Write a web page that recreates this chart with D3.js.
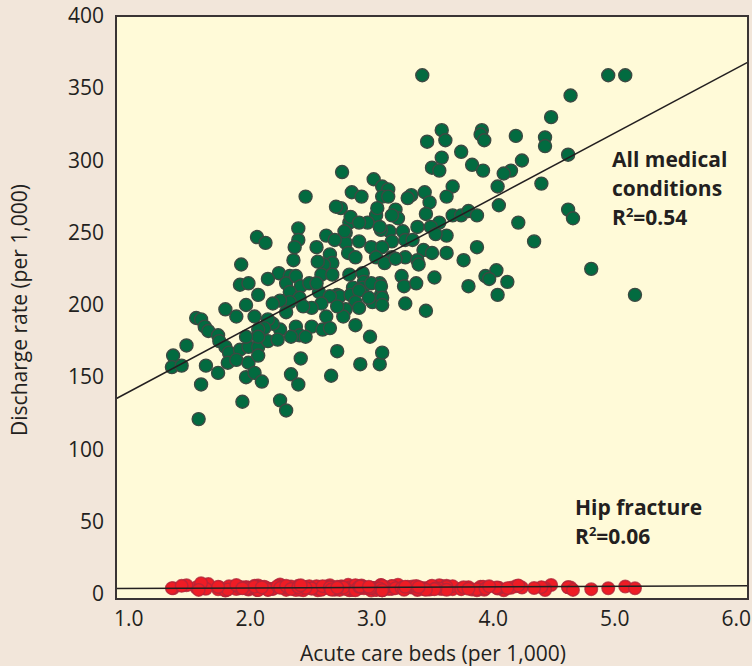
<!DOCTYPE html>
<html>
<head>
<meta charset="utf-8">
<script src="https://cdn.jsdelivr.net/npm/d3@7"></script>
<style>
  body { margin: 0; background: #f2e6da; }
  svg { display: block; }
</style>
</head>
<body>
<div id="scatter"></div>
<script>
// tick labels
var xTicks = [1, 2, 3, 4, 5, 6];
var yTicks = [0, 50, 100, 150, 200, 250, 300, 350, 400];

// acute care beds per 1,000 (one entry per region, shared by both series)
var beds = [
  3.42, 4.95, 5.09, 4.64, 4.48, 3.58, 3.91, 3.90, 3.93, 3.61, 3.46, 4.19, 4.43, 4.43, 4.62, 3.74, 3.58, 4.24, 3.83, 3.92,
  3.50, 3.56, 4.15, 4.09, 2.76, 4.04, 4.40, 3.67, 3.62, 3.02, 3.09, 3.14, 2.84, 2.92, 3.44, 3.33, 3.30, 3.09, 3.14, 2.46,
  3.48, 4.05, 4.62, 4.66, 2.75, 2.71, 3.20, 3.22, 3.17, 3.04, 3.45, 3.67, 3.74, 3.80, 3.87, 4.21, 4.34, 3.87, 3.62, 3.56,
  3.49, 3.38, 3.26, 3.15, 3.08, 2.97, 2.82, 2.79, 2.90, 3.00, 2.79, 3.17, 3.28, 3.43, 3.50, 3.62, 3.76, 3.28, 3.17, 3.05,
  2.83, 3.07, 3.09, 3.34, 3.53, 2.78, 2.81, 2.87, 3.04, 3.11, 3.20, 3.38, 2.90,
  2.40, 2.06, 2.13, 2.40, 2.37, 2.63, 2.70, 2.55, 2.36, 1.93, 2.66, 2.68, 2.61, 2.56, 2.24, 2.15, 1.92, 1.99, 2.07, 2.33,
  2.30, 2.38, 2.42, 2.49, 2.59, 2.68, 2.82, 2.93, 2.94, 2.93, 3.07, 3.08, 3.25, 3.27, 3.37, 3.52, 2.33, 2.57, 2.72, 2.85,
  3.00, 3.08, 2.55, 2.74, 2.83, 2.90, 2.87, 2.79, 2.77, 2.87, 2.90, 3.01, 3.09, 3.09, 2.66, 2.59, 2.51, 2.63, 2.72, 2.41,
  2.33, 2.25, 2.19, 2.44, 2.30, 2.51, 2.60, 2.66, 2.38, 2.41, 2.34, 2.46, 2.25, 2.19, 2.15, 2.12, 2.07, 2.04, 1.97, 1.89,
  1.80, 1.56, 1.60, 1.63, 1.66, 1.74, 1.75, 1.80, 1.83, 1.92, 1.99, 2.07, 2.15, 2.23, 2.07, 1.97, 1.82, 1.89, 1.99, 2.07,
  1.97, 2.04, 2.10, 1.48, 1.37, 1.36, 1.44, 1.64, 1.74, 1.60, 1.94, 2.25, 2.30, 1.58, 2.34, 2.40, 2.42, 2.67, 2.72, 2.91,
  3.07, 3.09, 2.99, 2.98,
  3.80, 4.04, 3.28, 3.45, 4.03, 3.94, 3.97, 4.12, 4.81, 5.17, 3.39
];

// discharge rate per 1,000, all medical conditions
var allMedical = [
  359, 359, 359, 345, 330, 321, 321, 318, 314, 314, 313, 317, 316, 310, 304, 306, 302, 300, 297, 293,
  295, 293, 293, 291, 292, 282, 284, 282, 275, 287, 282, 280, 278, 275, 278, 276, 274, 275, 275, 275,
  271, 269, 266, 260, 267, 268, 266, 260, 262, 262, 263, 262, 262, 265, 262, 257, 244, 240, 248, 257,
  254, 254, 251, 251, 252, 257, 257, 250, 244, 240, 243, 244, 245, 238, 236, 236, 231, 233, 233, 267,
  261, 254, 240, 245, 249, 251, 236, 233, 233, 229, 232, 231, 257,
  253, 247, 243, 245, 240, 248, 245, 240, 231, 228, 235, 229, 228, 230, 222, 218, 214, 215, 207, 220,
  215, 220, 213, 215, 221, 221, 221, 222, 216, 212, 215, 207, 220, 213, 215, 219, 209, 209, 207, 212,
  215, 213, 215, 206, 207, 210, 202, 197, 192, 186, 198, 202, 205, 200, 206, 201, 198, 192, 199, 205,
  202, 203, 201, 199, 195, 185, 183, 184, 185, 179, 178, 178, 183, 187, 190, 184, 183, 192, 200, 192,
  197, 191, 190, 185, 182, 179, 175, 171, 167, 169, 171, 171, 175, 176, 178, 178, 160, 162, 160, 165,
  150, 153, 147, 172, 165, 157, 158, 158, 153, 145, 133, 134, 127, 121, 152, 145, 163, 151, 168, 159,
  159, 167, 178, 205,
  213, 207, 201, 196, 224, 220, 218, 216, 225, 207, 228
];

// discharge rate per 1,000, hip fracture
var hipFracture = [
  4.1, 3.9, 5.1, 4.5, 6.2, 3.4, 4.8, 5.0, 2.9, 4.2, 3.6, 5.3, 4.0, 2.7, 4.6, 3.8, 5.5, 4.4, 3.1, 4.9,
  3.5, 6.0, 4.3, 2.6, 5.2, 3.7, 4.7, 3.3, 5.6, 4.1, 2.8, 3.9, 4.6, 5.8, 3.2, 4.4, 5.0, 2.5, 3.6, 4.8,
  3.0, 4.2, 4.6, 2.8, 5.1, 3.7, 4.3, 6.4, 3.5, 2.9, 4.0, 5.4, 3.3, 4.7, 2.6, 5.9, 4.1, 3.2, 4.9, 3.8,
  5.2, 2.7, 4.5, 3.6, 6.1, 4.0, 3.1, 5.0, 4.4, 2.4, 3.9, 5.3, 4.2, 3.4, 5.7, 2.9, 4.6, 3.7, 5.5, 4.3,
  3.0, 4.8, 2.6, 5.1, 3.8, 4.4, 6.3, 3.5, 2.8, 4.9, 4.0, 3.3, 5.2,
  3.9, 2.7, 4.5, 5.6, 3.4, 4.2, 2.9, 5.0, 3.7, 4.6, 6.0, 3.1, 4.3, 2.5, 5.3, 3.8, 4.7, 3.0, 5.8, 4.1,
  2.8, 3.6, 4.9, 5.4, 3.2, 4.4, 2.6, 5.1, 3.9, 4.8, 3.5, 6.2, 4.0, 2.9, 5.5, 3.3, 4.6, 3.8, 5.0, 2.7,
  4.2, 3.6, 5.3, 2.8, 4.7, 3.9, 6.1, 3.4, 4.5, 2.6, 5.0, 4.1, 3.2, 5.6, 4.4, 2.9, 3.7, 5.2, 4.0, 3.1,
  4.8, 5.9, 3.5, 2.5, 4.3, 3.8, 5.4, 4.6, 2.7, 3.3, 5.1, 4.2, 6.5, 3.6, 2.8, 4.9, 3.0, 5.7, 4.1, 3.4,
  2.4, 4.5, 5.0, 3.9, 6.8, 3.2, 4.7, 2.6, 5.3, 4.0, 3.7, 4.4, 2.9, 5.5, 3.5, 4.8, 3.1, 6.2, 4.3, 2.7,
  3.8, 5.1, 4.6, 6.0, 3.9, 4.0, 5.6, 3.6, 4.9, 7.4, 3.9, 4.2, 5.6, 2.8, 3.4, 4.7, 6.0, 3.0, 4.4, 5.2,
  3.7, 2.6, 4.1, 5.0,
  3.6, 4.2, 5.0, 2.9, 4.4, 3.7, 5.3, 4.0, 3.3, 3.9, 4.8
];

// fitted lines: [intercept, slope]
var allMedicalFit = [94.8, 44.8];
var hipFractureFit = [3.35, 0.385];

var W = 752, H = 666;
var margin = {top: 16, right: 4, bottom: 67, left: 116},
width = W - margin.left - margin.right,
height = H - margin.top - margin.bottom;

var svg = d3.select("#scatter")
.append("svg")
.attr("width", W)
.attr("height", H);

svg.append("rect")
.attr("width", W)
.attr("height", H)
.attr("fill", "#f2e6da");

var chartgroup = svg.append("g")
.attr("transform", "translate(" + margin.left + "," + margin.top + ")");

var xscale = d3.scaleLinear()
.domain([0.9, 6.1])
.range([0, width]);

var yscale = d3.scaleLinear()
.domain([-3.5, 400])
.range([height, 0]);

// plot background
chartgroup.append("rect")
.attr("width", width)
.attr("height", height)
.attr("fill", "#fffad8");

var points = beds.map(function(b, i) {
  return {beds: b, med: allMedical[i], hip: hipFracture[i]};
});

// hip fracture dots
chartgroup.append("g")
.selectAll("circle")
.data(points)
.enter()
.append("circle")
.attr("cx", d => xscale(d.beds))
.attr("cy", d => yscale(d.hip))
.attr("r", 6.3)
.attr("fill", "#ee1c25")
.attr("stroke", "#b3263a")
.attr("stroke-opacity", 0.8)
.attr("stroke-width", 1.4);

// all medical dots
chartgroup.append("g")
.selectAll("circle")
.data(points)
.enter()
.append("circle")
.attr("cx", d => xscale(d.beds))
.attr("cy", d => yscale(d.med))
.attr("r", 6.5)
.attr("fill", "#026b40")
.attr("stroke", "#3b4a42")
.attr("stroke-width", 1.4);

// fit lines
var xd = xscale.domain();
[allMedicalFit, hipFractureFit].forEach(function(f) {
  chartgroup.append("line")
  .attr("x1", xscale(xd[0]))
  .attr("y1", yscale(f[0] + f[1] * xd[0]))
  .attr("x2", xscale(xd[1]))
  .attr("y2", yscale(f[0] + f[1] * xd[1]))
  .attr("stroke", "#231f20")
  .attr("stroke-width", 1.5);
});

// frame
chartgroup.append("rect")
.attr("width", width)
.attr("height", height)
.attr("fill", "none")
.attr("stroke", "#3a3434")
.attr("stroke-width", 2);

// axes
var xaxis = chartgroup.append("g")
.attr("transform", "translate(0," + height + ")")
.call(d3.axisBottom(xscale).tickValues(xTicks).tickSize(0).tickPadding(12).tickFormat(d3.format(".1f")));

var yaxis = chartgroup.append("g")
.call(d3.axisLeft(yscale).tickValues(yTicks).tickSize(0).tickPadding(12));

[xaxis, yaxis].forEach(function(a) {
  a.select(".domain").remove();
  a.selectAll("text")
  .attr("fill", "#231f20")
  .style("font-family", "'Open Sans', sans-serif")
  .style("font-size", "21px");
});

// axis titles
svg.append("text")
.attr("x", 433)
.attr("y", 661)
.attr("text-anchor", "middle")
.attr("fill", "#231f20")
.style("font-family", "'Open Sans', sans-serif")
.style("font-size", "21px")
.text("Acute care beds (per 1,000)");

svg.append("text")
.attr("transform", "translate(27,310)rotate(-90)")
.attr("text-anchor", "middle")
.attr("fill", "#231f20")
.style("font-family", "'Open Sans', sans-serif")
.style("font-size", "21px")
.text("Discharge rate (per 1,000)");

// annotations
function note(x, y, lines) {
  var t = svg.append("text")
  .attr("fill", "#231f20")
  .style("font-family", "'Open Sans', sans-serif")
  .style("font-weight", "bold")
  .style("font-size", "21px");
  lines.forEach(function(l, i) {
    var yy = y + i * 29;
    if (l.indexOf("R2") === 0) {
      t.append("tspan").attr("x", x).attr("y", yy).text("R");
      t.append("tspan").attr("y", yy - 8).style("font-size", "13px").text("2");
      t.append("tspan").attr("y", yy).text(l.slice(2));
    } else {
      t.append("tspan").attr("x", x).attr("y", yy).text(l);
    }
  });
}

note(612, 167, ["All medical", "conditions", "R2=0.54"]);
note(575, 515, ["Hip fracture", "R2=0.06"]);
</script>
</body>
</html>
